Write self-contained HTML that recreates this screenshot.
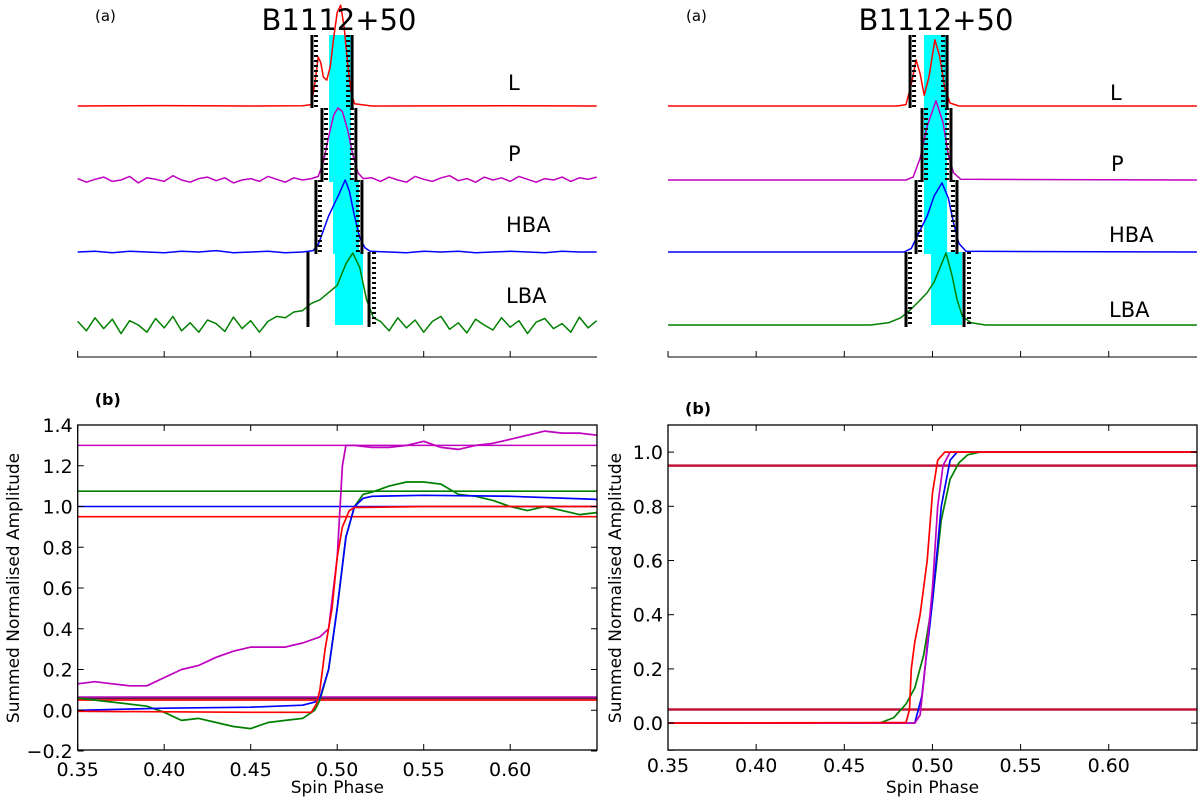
<!DOCTYPE html>
<html><head><meta charset="utf-8"><style>
html,body{margin:0;padding:0;background:#fff;}
svg{display:block;font-family:"DejaVu Sans","Liberation Sans",sans-serif;}
</style></head><body>
<svg id="fig" width="1200" height="798" viewBox="0 0 1200 798" xmlns="http://www.w3.org/2000/svg">
<rect width="1200" height="798" fill="#fff"/>
<g id="tl"></g>
<g id="tr"></g>
<g id="bl"></g>
<g id="br"></g>
</svg>
<script>
// ---------- data: top-left profiles (phase, normalised amplitude) ----------
const tlLPhase=[0.35,0.40,0.45,0.48,0.485,0.487,0.489,0.4905,0.492,0.494,0.496,0.498,0.500,0.502,0.504,0.506,0.508,0.510,0.52,0.60,0.65];
const tlLAmp=[0,0.005,0,0.003,0.02,0.3,0.68,0.6,0.4,0.36,0.55,0.95,1.3,1.4,1.1,0.6,0.2,0.03,0,0.004,0];
const tlPPhase=[0.35,0.355,0.36,0.365,0.37,0.375,0.38,0.385,0.39,0.395,0.40,0.405,0.41,0.415,0.42,0.425,0.43,0.435,0.44,0.445,0.45,0.455,0.46,0.465,0.47,0.475,0.48,0.485,0.489,0.492,0.495,0.498,0.5004,0.503,0.506,0.509,0.512,0.515,0.52,0.525,0.53,0.535,0.54,0.545,0.55,0.555,0.56,0.565,0.57,0.575,0.58,0.585,0.59,0.595,0.60,0.605,0.61,0.615,0.62,0.625,0.63,0.635,0.64,0.645,0.65];
const tlPAmp=[0.02,-0.03,0.01,0.04,-0.02,0.0,0.05,-0.04,0.03,0.01,-0.02,0.06,0.0,-0.03,0.02,0.04,-0.01,0.03,-0.04,0.0,0.02,-0.02,0.05,0.01,-0.03,0.03,0.0,0.02,0.05,0.25,0.6,0.9,1.0,0.95,0.7,0.35,0.1,0.02,0.03,-0.02,0.04,0.0,-0.03,0.05,0.01,-0.02,0.03,0.06,-0.01,0.02,-0.03,0.04,0.0,0.03,-0.02,0.05,0.01,-0.03,0.02,0.0,0.04,-0.02,0.03,0.01,0.04];
const tlHPhase=[0.35,0.36,0.37,0.38,0.39,0.40,0.41,0.42,0.43,0.44,0.45,0.46,0.47,0.48,0.486,0.489,0.492,0.495,0.498,0.501,0.5046,0.507,0.510,0.513,0.516,0.519,0.53,0.54,0.55,0.56,0.57,0.58,0.59,0.60,0.61,0.62,0.63,0.64,0.65];
const tlHAmp=[0.0,0.01,-0.01,0.01,0.0,-0.01,0.01,0.0,0.02,-0.01,0.0,0.01,-0.01,0.0,0.02,0.1,0.3,0.5,0.65,0.8,1.0,0.85,0.5,0.2,0.06,0.01,0.0,-0.01,0.01,0.0,0.01,-0.01,0.0,0.01,0.0,-0.01,0.01,0.0,0.0];
const tlGPhase=[0.35,0.355,0.36,0.365,0.37,0.375,0.38,0.385,0.39,0.395,0.40,0.405,0.41,0.415,0.42,0.425,0.43,0.435,0.44,0.445,0.45,0.455,0.46,0.465,0.47,0.475,0.48,0.485,0.49,0.495,0.50,0.505,0.509,0.513,0.517,0.521,0.525,0.53,0.535,0.54,0.545,0.55,0.555,0.56,0.565,0.57,0.575,0.58,0.585,0.59,0.595,0.60,0.605,0.61,0.615,0.62,0.625,0.63,0.635,0.64,0.645,0.65];
const tlGAmp=[0.05,-0.08,0.1,-0.05,0.08,-0.12,0.06,0.0,-0.1,0.09,-0.04,0.12,-0.08,0.03,-0.1,0.07,0.02,-0.09,0.11,-0.05,0.06,-0.1,0.05,0.12,0.1,0.18,0.2,0.3,0.35,0.45,0.55,0.85,1.0,0.8,0.35,0.1,0.05,-0.08,0.1,-0.04,0.07,-0.1,0.05,0.12,-0.06,0.03,-0.11,0.08,0.0,-0.07,0.1,-0.03,0.06,-0.12,0.04,0.09,-0.05,0.02,-0.1,0.11,-0.04,0.06];
// ---------- data: top-right profiles ----------
const trLPhase=[0.35,0.48,0.485,0.488,0.4907,0.493,0.4953,0.498,0.5014,0.504,0.507,0.510,0.515,0.65];
const trLAmp=[0,0,0.02,0.3,0.64,0.45,0.15,0.4,0.92,0.7,0.25,0.04,0,0];
const trPPhase=[0.35,0.485,0.489,0.493,0.497,0.502,0.506,0.509,0.512,0.516,0.65];
const trPAmp=[0,0,0.04,0.3,0.75,1.1,0.8,0.35,0.1,0.01,0];
const trHPhase=[0.35,0.484,0.488,0.492,0.497,0.501,0.5054,0.509,0.512,0.515,0.519,0.65];
const trHAmp=[0,0,0.05,0.25,0.5,0.78,0.96,0.75,0.4,0.12,0.01,0];
const trGPhase=[0.35,0.465,0.475,0.482,0.487,0.492,0.497,0.501,0.5077,0.511,0.514,0.517,0.522,0.53,0.65];
const trGAmp=[0,0,0.03,0.1,0.2,0.32,0.45,0.6,1.0,0.7,0.35,0.12,0.03,0,0];
// ---------- on-pulse windows (phase) ----------
const tlBars=[[0.4854,0.5086],[0.4912,0.5108],[0.4877,0.5143],[0.4831,0.5184]];
const trBars=[[0.4873,0.5083],[0.4941,0.5105],[0.4907,0.5139],[0.485,0.5179]];
const tlCyan=[[0.4953,0.508],[0.4953,0.508],[0.4976,0.5126],[0.4987,0.5149]];
const trCyan=[[0.4952,0.5083],[0.4952,0.5083],[0.4952,0.5083],[0.4992,0.5168]];
const bandNames=["L","P","HBA","LBA"];
// ---------- data: bottom-left cumulative ----------
const blMPhase=[0.35,0.36,0.37,0.38,0.39,0.40,0.41,0.42,0.43,0.44,0.45,0.46,0.47,0.475,0.48,0.49,0.495,0.50,0.503,0.505,0.51,0.52,0.53,0.54,0.55,0.56,0.57,0.58,0.59,0.60,0.61,0.62,0.63,0.64,0.65];
const blMVal=[0.13,0.14,0.13,0.12,0.12,0.16,0.2,0.22,0.26,0.29,0.31,0.31,0.31,0.32,0.33,0.36,0.4,0.75,1.2,1.3,1.3,1.29,1.29,1.3,1.32,1.29,1.28,1.3,1.31,1.33,1.35,1.37,1.36,1.36,1.35];
const blGPhase=[0.35,0.36,0.37,0.38,0.39,0.40,0.41,0.42,0.43,0.44,0.45,0.46,0.47,0.48,0.487,0.49,0.495,0.50,0.505,0.51,0.515,0.52,0.53,0.54,0.55,0.56,0.57,0.58,0.59,0.60,0.61,0.62,0.63,0.64,0.65];
const blGVal=[0.06,0.05,0.04,0.03,0.02,-0.01,-0.05,-0.04,-0.06,-0.08,-0.09,-0.06,-0.05,-0.04,0.0,0.05,0.2,0.5,0.85,1.0,1.06,1.07,1.1,1.12,1.12,1.11,1.06,1.05,1.03,1.0,0.98,1.0,0.98,0.96,0.97];
const blBPhase=[0.35,0.40,0.45,0.48,0.487,0.49,0.495,0.50,0.505,0.51,0.515,0.52,0.55,0.60,0.65];
const blBVal=[0.0,0.01,0.015,0.025,0.04,0.06,0.2,0.5,0.85,1.0,1.04,1.05,1.055,1.05,1.035];
const blRPhase=[0.35,0.45,0.485,0.488,0.49,0.493,0.497,0.50,0.503,0.507,0.51,0.55,0.65];
const blRVal=[-0.005,-0.01,-0.01,0.03,0.1,0.3,0.5,0.75,0.9,0.98,0.995,1.0,1.0];
const blHLines=[[1.30,"#bf00bf"],[1.075,"#008000"],[1.0,"#0000ff"],[0.95,"#ff0000"],[0.065,"#bf00bf"],[0.058,"#5a1a4a"],[0.05,"#ff0000"]];
// ---------- data: bottom-right cumulative ----------
const brRPhase=[0.35,0.485,0.487,0.488,0.49,0.493,0.497,0.50,0.503,0.507,0.65];
const brRVal=[0,0.002,0.05,0.2,0.3,0.4,0.6,0.85,0.97,1.0,1.0];
const brMPhase=[0.35,0.49,0.493,0.495,0.50,0.503,0.506,0.51,0.65];
const brMVal=[0,0,0.03,0.15,0.5,0.8,0.95,1.0,1.0];
const brBPhase=[0.35,0.49,0.494,0.50,0.505,0.51,0.514,0.65];
const brBVal=[0,0,0.1,0.45,0.8,0.97,1.0,1.0];
const brGPhase=[0.35,0.47,0.478,0.485,0.49,0.495,0.50,0.505,0.51,0.515,0.52,0.527,0.65];
const brGVal=[0,0,0.02,0.07,0.13,0.25,0.45,0.75,0.9,0.96,0.99,1.0,1.0];
const brHLines=[[0.95,"#c0143c"],[0.05,"#c0143c"]];
const xTicks=[0.35,0.40,0.45,0.50,0.55,0.60];
const xTickLabels=["0.35","0.40","0.45","0.50","0.55","0.60"];
const blYTicks=[-0.2,0.0,0.2,0.4,0.6,0.8,1.0,1.2,1.4];
const blYLabels=["\u22120.2","0.0","0.2","0.4","0.6","0.8","1.0","1.2","1.4"];
const brYTicks=[-0.1,0.0,0.2,0.4,0.6,0.8,1.0,1.1];
const brYLabels=["","0.0","0.2","0.4","0.6","0.8","1.0",""];

const NS="http://www.w3.org/2000/svg";
function mk(parent,tag,attrs){const e=document.createElementNS(NS,tag);for(const k in attrs)e.setAttribute(k,attrs[k]);parent.appendChild(e);return e;}
function poly(parent,xs,ys,fx,fy,color,w){
  let d="";for(let i=0;i<xs.length;i++){d+=(i?"L":"M")+fx(xs[i]).toFixed(1)+","+fy(ys[i]).toFixed(1);}
  return mk(parent,"path",{d:d,fill:"none",stroke:color,"stroke-width":w,"stroke-linejoin":"round"});
}
function txt(parent,x,y,s,size,anchor,extra){const t=mk(parent,"text",Object.assign({x:x,y:y,"font-size":size,"text-anchor":anchor||"start"},extra||{}));t.textContent=s;return t;}

const xL=p=>77.7+(p-0.35)*1730;
const xR=p=>668+(p-0.35)*1763;
const rowTop=[35,108,180,252], rowBase=[106,180,252,325];

function topPanel(g,fx,x0,x1,bars,cyan,series,cols,labelPos,titleX){
  for(let i=0;i<4;i++){
    const r=mk(g,"rect",{x:fx(cyan[i][0]),y:rowTop[i],width:fx(cyan[i][1])-fx(cyan[i][0]),height:rowBase[i]-rowTop[i]+(i==3?0:2),fill:"#00ffff"});
    
    
  }
  for(let i=0;i<4;i++){
    const s=series[i];
    const p=poly(g,s[0],s[1],fx,v=>rowBase[i]-v*72,cols[i],1.5);
    
    
  }
  for(let i=0;i<4;i++){
    for(let j=0;j<2;j++){
      const x=fx(bars[i][j]);
      const b=mk(g,"line",{x1:x,x2:x,y1:rowTop[i],y2:rowBase[i]+2,stroke:"#000","stroke-width":3});
      
      
      let off=j?-4:4; if(i==3&&j==1)off=5;
      if(!(i==3&&j==0&&fx===xL)){
        mk(g,"line",{x1:x+off,x2:x+off,y1:rowTop[i],y2:rowBase[i]+2,stroke:"#000","stroke-width":4,"stroke-dasharray":"2,3"});
      }
    }
  }
  for(let i=0;i<4;i++){
    const t=txt(g,labelPos[i][0],labelPos[i][1],bandNames[i],21,"start");
    
    
  }
  const ti=txt(g,titleX,30,"B1112+50",29,"middle");
  
  
  const pa=txt(g,x0+18,21,"(a)",15,"start");
  
  
  const ax=mk(g,"line",{x1:x0,x2:x1,y1:357,y2:357,stroke:"#000","stroke-width":1});
  
  
  xTicks.forEach(t=>mk(g,"line",{x1:fx(t),x2:fx(t),y1:357,y2:351,stroke:"#000","stroke-width":1}));
}
topPanel(document.getElementById("tl"),xL,77,597,tlBars,tlCyan,
  [[tlLPhase,tlLAmp],[tlPPhase,tlPAmp],[tlHPhase,tlHAmp],[tlGPhase,tlGAmp]],
  ["#ff0000","#bf00bf","#0000ff","#008000"],[[508,90],[508,161],[506,232],[506,303]],339);
topPanel(document.getElementById("tr"),xR,668,1197,trBars,trCyan,
  [[trLPhase,trLAmp],[trPPhase,trPAmp],[trHPhase,trHAmp],[trGPhase,trGAmp]],
  ["#ff0000","#bf00bf","#0000ff","#008000"],[[1110,100],[1111,171],[1109,242],[1109,317]],936);

function bottomPanel(g,fx,x0,x1,fy,yTicks,yLabels,hlines,series,cols,ytitleX,hw,tickY,bY){
  hlines.forEach((h,i)=>{
    const l=mk(g,"line",{x1:x0,x2:x1,y1:fy(h[0]),y2:fy(h[0]),stroke:h[1],"stroke-width":hw});
    
    
  });
  series.forEach((s,i)=>{
    const p=poly(g,s[0],s[1],fx,fy,cols[i],1.7);
    
    
  });
  const fr=mk(g,"rect",{x:x0,y:425,width:x1-x0,height:325,fill:"none",stroke:"#000","stroke-width":1.3});
  
  
  xTicks.forEach((t,i)=>{
    const x=fx(t);
    mk(g,"line",{x1:x,x2:x,y1:750,y2:744,stroke:"#000"});
    mk(g,"line",{x1:x,x2:x,y1:425,y2:431,stroke:"#000"});
    const tl=txt(g,x,tickY,xTickLabels[i],19,"middle");
    
    
  });
  yTicks.forEach((t,i)=>{
    const y=fy(t);
    mk(g,"line",{x1:x0,x2:x0+6,y1:y,y2:y,stroke:"#000"});
    mk(g,"line",{x1:x1,x2:x1-6,y1:y,y2:y,stroke:"#000"});
    if(yLabels[i]){const tl=txt(g,x0-5,y+7,yLabels[i],19,"end");
    
    }
  });
  const xt=txt(g,(x0+x1)/2,793,"Spin Phase",17,"middle");
  
  
  const yt=txt(g,0,0,"Summed Normalised Amplitude",17,"middle",{transform:"translate("+ytitleX+",588) rotate(-90)"});
  
  
  const pb=txt(g,x0+17,bY,"(b)",16,"start",{"font-weight":"bold"});
  
  
}
const yBL=v=>425+(1.4-v)*203.75;
const yBR=v=>425+(1.1-v)*271;
bottomPanel(document.getElementById("bl"),xL,77.7,597,yBL,blYTicks,blYLabels,blHLines,
  [[blMPhase,blMVal,"p"],[blGPhase,blGVal,"lba"],[blBPhase,blBVal,"hba"],[blRPhase,blRVal,"l"]],
  ["#bf00bf","#008000","#0000ff","#ff0000"],19,1.6,776,405);
bottomPanel(document.getElementById("br"),xR,668,1197,yBR,brYTicks,brYLabels,brHLines,
  [[brGPhase,brGVal,"lba"],[brBPhase,brBVal,"hba"],[brMPhase,brMVal,"p"],[brRPhase,brRVal,"l"]],
  ["#008000","#0000ff","#bf00bf","#ff0000"],621,2.5,772,414);
</script>
</body></html>
